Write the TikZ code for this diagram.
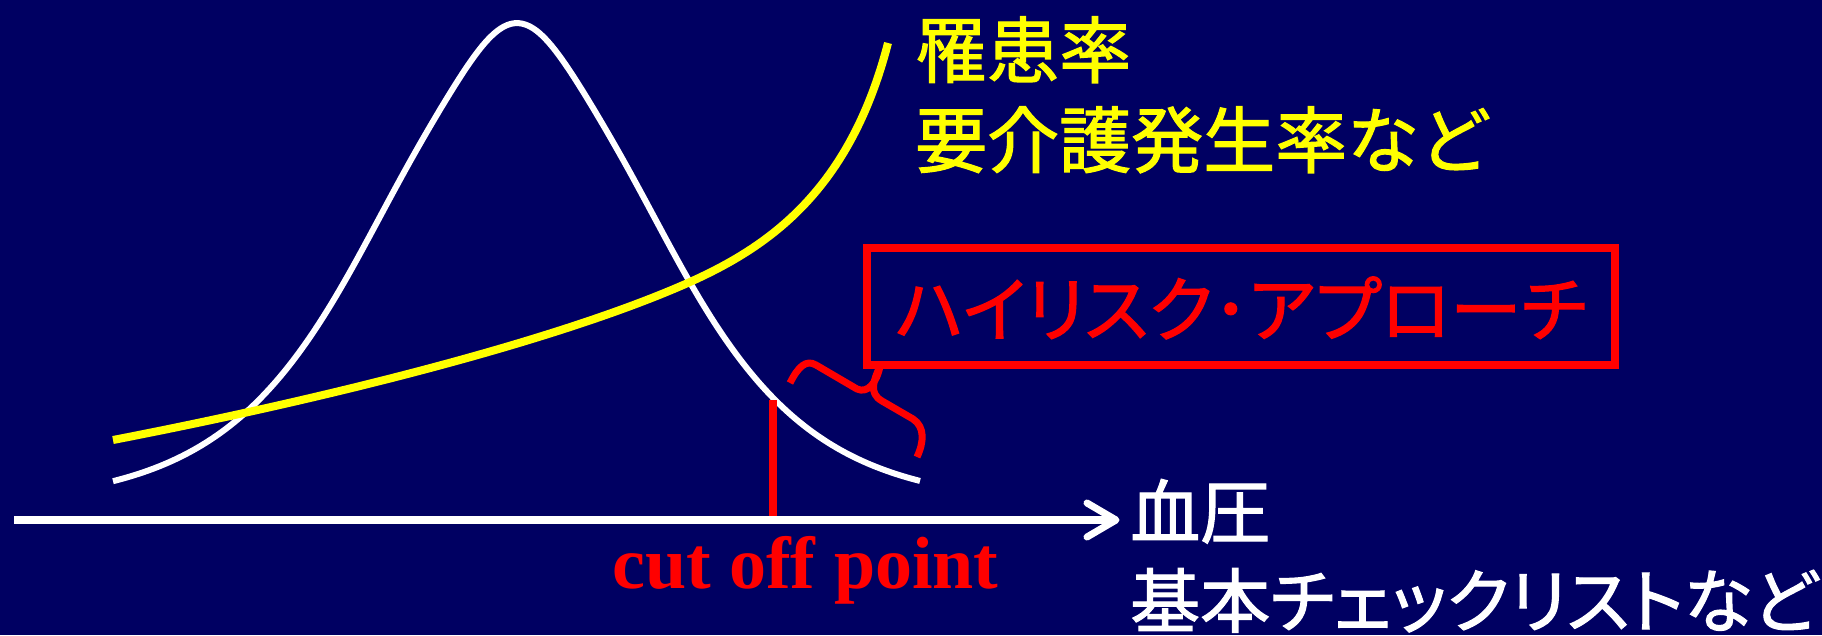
\documentclass[tikz,border=0pt]{standalone}
\usepackage{fontspec}
\setmainfont{Liberation Serif}
\newfontfamily\jp{Noto Sans CJK JP}[FakeBold=1.6]
\newfontfamily\jpp{Noto Sans CJK JP}[RawFeature=+palt, FakeBold=1.6]
\definecolor{navy}{HTML}{000062}
\definecolor{ylw}{HTML}{FFFF00}
\definecolor{rd}{HTML}{FF0000}
\begin{document}
\begin{tikzpicture}[x=1pt,y=-1pt,
  lbl/.style={inner sep=0pt, anchor=base west},
  bell/.style={draw=white, line width=6pt},
  risk/.style={draw=ylw, line width=8pt},
  axisline/.style={draw=white, line width=8pt}]
\fill[navy] (0,0) rectangle (1822,635);
\useasboundingbox (0,0) rectangle (1822,635);

% bell curve
\draw[bell] plot[domain=113:920, samples=220, smooth] (\x, {505-482/(cosh((\x-517)/185))^2 + 33*((\x-517)/70)^2*exp(-min(30,((\x-517)/70)^2))});

% yellow curve
\coordinate (y0) at (113,440);
\coordinate (ym) at (690,282);
\coordinate (ye) at (888,43);
\draw[risk] (y0) .. controls (330,398) and (560,340) .. (ym) .. controls (770,246) and (850,190) .. (ye);

% axis
\coordinate (ax0) at (14,520);
\coordinate (ax1) at (1112,520);
\coordinate (tip) at (1116,520);
\draw[axisline] (ax0) -- (ax1);
\draw[draw=white, line width=7pt, line join=round, line cap=round] (1087,503) -- (tip) -- (1087,537);

% cut off line
\coordinate (cut0) at (773,400);
\coordinate (cut1) at (773,516);
\draw[draw=rd, line width=8pt] (cut0) -- (cut1);

% box
\node[draw=rd, line width=8pt, minimum width=748pt, minimum height=117pt, inner sep=0pt] (box) at (1241,306.5) {};
\node[lbl, text=rd, font=\jpp\fontsize{71.5}{71.5}\selectfont, anchor=base] (boxtext) at (1241,336) {ハイリスク･アプローチ};

% brace
\draw[draw=rd, line width=7pt, line join=round] (790,383) .. controls (798,367) and (806,359) .. (816,365) -- (857,389) .. controls (868,394) and (877,382) .. (880,366) .. controls (874,380) and (868,393) .. (882,401) -- (913,419) .. controls (925,427) and (924,442) .. (917,457);

% texts
\node[lbl, text=ylw, font=\jp\fontsize{72}{72}\selectfont] (y1) at (915,77) {罹患率};
\node[lbl, text=ylw, font=\jp\fontsize{72}{72}\selectfont] (y2) at (915,167) {要介護発生率など};
\node[lbl, text=white, font=\jp\fontsize{70}{70}\selectfont] (x1) at (1130,538) {血圧};
\node[lbl, text=white, font=\jpp\fontsize{70}{70}\selectfont] (x2) at (1130,627) {基本チェックリストなど};
\node[lbl, text=rd, font=\bfseries\fontsize{74}{74}\selectfont] (cop) at (612,588) {cut off point};
\end{tikzpicture}
\end{document}
